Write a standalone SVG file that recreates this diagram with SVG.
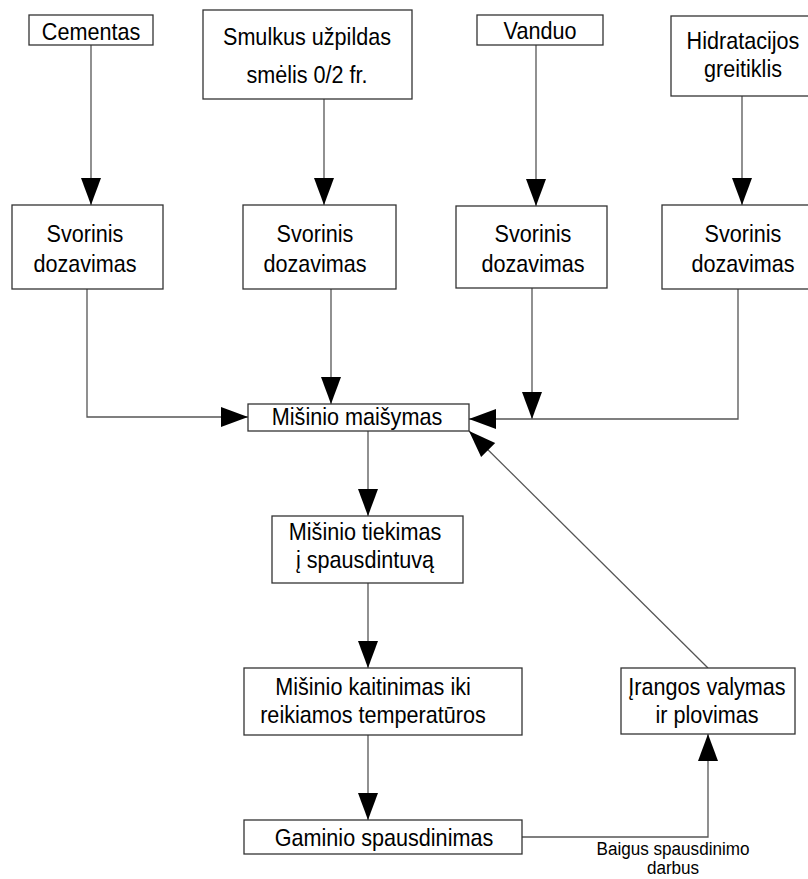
<svg xmlns="http://www.w3.org/2000/svg" width="808" height="879" viewBox="0 0 808 879">
<style>
.box{fill:#fff;stroke:#333;stroke-width:1.3}
.t{font-family:"Liberation Sans",Arial,sans-serif;font-size:24px;fill:#000;text-anchor:middle}
.s{font-family:"Liberation Sans",Arial,sans-serif;font-size:19px;fill:#000;text-anchor:middle}
.c{fill:none;stroke:#555;stroke-width:1.3}
</style>
<defs>
<marker id="ah" markerUnits="userSpaceOnUse" markerWidth="28" markerHeight="21" refX="27" refY="10" orient="auto" overflow="visible">
<path d="M0,0 L27,10 L0,20 z" fill="#000"/>
</marker>
</defs>
<rect width="808" height="879" fill="#fff"/>
<g id="connectors">
<path class="c" d="M91,45 V205" marker-end="url(#ah)"/>
<path class="c" d="M324,99 V205" marker-end="url(#ah)"/>
<path class="c" d="M536,45 V206" marker-end="url(#ah)"/>
<path class="c" d="M742,96 V205" marker-end="url(#ah)"/>
<path class="c" d="M87,289 V417 H248" marker-end="url(#ah)"/>
<path class="c" d="M331,289 V404" marker-end="url(#ah)"/>
<path class="c" d="M532,288 V419" marker-end="url(#ah)"/>
<path class="c" d="M738,289 V419 H469" marker-end="url(#ah)"/>
<path class="c" d="M368,431 V516" marker-end="url(#ah)"/>
<path class="c" d="M368,583 V668" marker-end="url(#ah)"/>
<path class="c" d="M368,735 V820" marker-end="url(#ah)"/>
<path class="c" d="M522,837 H708 V734" marker-end="url(#ah)"/>
<path class="c" d="M708,668 L469,431" marker-end="url(#ah)"/>
<text class="s" transform="translate(673,855) scale(0.9,1)"><tspan x="0" y="0">Baigus spausdinimo</tspan><tspan x="0" y="19">darbus</tspan></text>
</g>
<g id="cementas">
<rect class="box" x="29" y="15" width="124" height="30"/>
<text class="t" transform="translate(91,40) scale(0.9,1)">Cementas</text>
</g>
<g id="smulkus">
<rect class="box" x="203" y="10" width="209" height="89"/>
<text class="t" transform="translate(307,0) scale(0.9,1)"><tspan x="0" y="45">Smulkus užpildas</tspan><tspan x="0" y="83">smėlis 0/2 fr.</tspan></text>
</g>
<g id="vanduo">
<rect class="box" x="477" y="15" width="126" height="30"/>
<text class="t" transform="translate(540,39) scale(0.9,1)">Vanduo</text>
</g>
<g id="hidratacijos">
<rect class="box" x="671" y="16" width="146" height="80"/>
<text class="t" transform="translate(743,0) scale(0.9,1)"><tspan x="0" y="49">Hidratacijos</tspan><tspan x="0" y="77">greitiklis</tspan></text>
</g>
<g id="svorinis1">
<rect class="box" x="12" y="205" width="151" height="84"/>
<text class="t" transform="translate(85,0) scale(0.9,1)"><tspan x="0" y="242">Svorinis</tspan><tspan x="0" y="272">dozavimas</tspan></text>
</g>
<g id="svorinis2">
<rect class="box" x="243" y="205" width="153" height="84"/>
<text class="t" transform="translate(315,0) scale(0.9,1)"><tspan x="0" y="242">Svorinis</tspan><tspan x="0" y="272">dozavimas</tspan></text>
</g>
<g id="svorinis3">
<rect class="box" x="456" y="206" width="151" height="82"/>
<text class="t" transform="translate(533,0) scale(0.9,1)"><tspan x="0" y="242">Svorinis</tspan><tspan x="0" y="272">dozavimas</tspan></text>
</g>
<g id="svorinis4">
<rect class="box" x="662" y="205" width="162" height="84"/>
<text class="t" transform="translate(743,0) scale(0.9,1)"><tspan x="0" y="242">Svorinis</tspan><tspan x="0" y="272">dozavimas</tspan></text>
</g>
<g id="maisymas">
<rect class="box" x="248" y="404" width="221" height="27"/>
<text class="t" transform="translate(357,425) scale(0.9,1)">Mišinio maišymas</text>
</g>
<g id="tiekimas">
<rect class="box" x="272" y="516" width="191" height="67"/>
<text class="t" transform="translate(365,0) scale(0.9,1)"><tspan x="0" y="540">Mišinio tiekimas</tspan><tspan x="0" y="568">į spausdintuvą</tspan></text>
</g>
<g id="kaitinimas">
<rect class="box" x="244" y="668" width="278" height="67"/>
<text class="t" transform="translate(373,0) scale(0.9,1)"><tspan x="0" y="695">Mišinio kaitinimas iki</tspan><tspan x="0" y="723">reikiamos temperatūros</tspan></text>
</g>
<g id="spausdinimas">
<rect class="box" x="244" y="820" width="278" height="34"/>
<text class="t" transform="translate(384,846) scale(0.9,1)">Gaminio spausdinimas</text>
</g>
<g id="valymas">
<rect class="box" x="621" y="668" width="174" height="66"/>
<text class="t" transform="translate(707,0) scale(0.9,1)"><tspan x="0" y="695">Įrangos valymas</tspan><tspan x="0" y="723">ir plovimas</tspan></text>
</g>
</svg>
